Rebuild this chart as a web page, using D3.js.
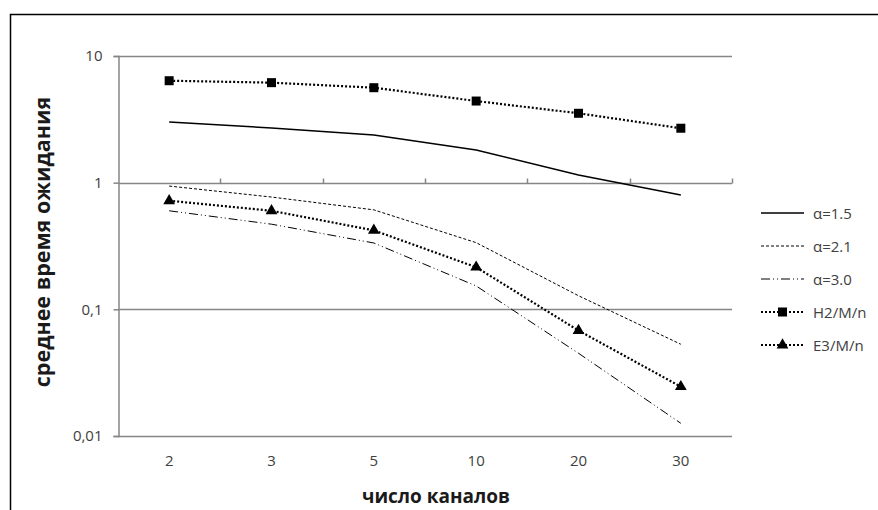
<!DOCTYPE html>
<html>
<head>
<meta charset="utf-8">
<script src="https://cdn.jsdelivr.net/npm/d3@7"></script>
<style>
  body { margin: 0; background: #fff; }
  svg { display: block; font-family: "Open Sans", sans-serif; }
</style>
</head>
<body>
<svg id="chart" width="878" height="510"></svg>
<script>
const channels = ["2", "3", "5", "10", "20", "30"];
const alpha15 = [3.01, 2.7, 2.38, 1.81, 1.15, 0.8];
const alpha21 = [0.94, 0.77, 0.61, 0.336, 0.128, 0.053];
const alpha30 = [0.6, 0.47, 0.334, 0.153, 0.045, 0.0126];
const h2mn = [6.38, 6.16, 5.62, 4.41, 3.53, 2.69];
const e3mn = [0.72, 0.6, 0.42, 0.215, 0.068, 0.0245];
const yTicks = [0.01, 0.1, 1, 10];
const yTickLabels = ["0,01", "0,1", "1", "10"];

const series = [
  { name: "α=1.5", values: alpha15, dash: null, width: 1.5, marker: null },
  { name: "α=2.1", values: alpha21, dash: "3,2", width: 1, marker: null },
  { name: "α=3.0", values: alpha30, dash: "9,3,1,3,1,3", width: 1, marker: null },
  { name: "H2/M/n", values: h2mn, dash: "2,2", width: 2.2, marker: "square" },
  { name: "E3/M/n", values: e3mn, dash: "2,2", width: 2.2, marker: "triangle" },
];

const svg = d3.select("#chart");
const plotLeft = 118, plotRight = 732, plotTop = 56, plotBottom = 436;
const grey = "#868686";
const labelFont = "\"Open Sans\", sans-serif";

// outer frame
svg.append("rect")
  .attr("x", 10.5).attr("y", 14.5)
  .attr("width", 900).attr("height", 520)
  .attr("fill", "none").attr("stroke", "#000").attr("stroke-width", 1.5);

const x = d3.scaleBand().domain(channels).range([plotLeft, plotRight]).paddingInner(0).paddingOuter(0);
const y = d3.scaleLog().domain([0.01, 10]).range([plotBottom, plotTop]);
const cx = (d) => x(d) + x.bandwidth() / 2;

// horizontal gridlines
svg.append("g").selectAll("line").data(yTicks).enter().append("line")
  .attr("x1", plotLeft).attr("x2", plotRight)
  .attr("y1", (d) => Math.round(y(d)) + 0.5).attr("y2", (d) => Math.round(y(d)) + 0.5)
  .attr("stroke", grey).attr("stroke-width", 1.5);

// y axis
const yAxis = d3.axisLeft(y).tickValues(yTicks)
  .tickFormat((d, i) => yTickLabels[i]).tickSize(5).tickPadding(11);
const gY = svg.append("g").attr("transform", "translate(" + (plotLeft + 0.5) + ",0)").call(yAxis);
gY.select(".domain").attr("stroke", grey).attr("stroke-width", 1.5);
gY.selectAll(".tick line").attr("stroke", grey).attr("stroke-width", 1.5);
gY.selectAll(".tick text").attr("font-size", 15).attr("fill", "#404040")
  .attr("font-family", labelFont);

// x axis crosses at 1 (ticks only), labels at bottom
const xLine = Math.round(y(1)) + 0.5;
const bounds = channels.map((c) => x(c) + x.bandwidth());
svg.append("g").selectAll("line").data(bounds).enter().append("line")
  .attr("x1", (d) => Math.round(d) + 0.5).attr("x2", (d) => Math.round(d) + 0.5)
  .attr("y1", xLine - 5).attr("y2", xLine)
  .attr("stroke", grey).attr("stroke-width", 1.5);

svg.append("g").selectAll("text").data(channels).enter().append("text")
  .attr("x", (d) => cx(d)).attr("y", 466)
  .attr("text-anchor", "middle").attr("font-size", 15).attr("fill", "#404040")
  .text((d) => d);

// axis titles
svg.append("text")
  .attr("x", 436).attr("y", 503)
  .attr("text-anchor", "middle").attr("font-size", 19).attr("font-weight", "bold")
  .attr("fill", "#1a1a1a").text("число каналов");

svg.append("text")
  .attr("transform", "translate(50,242) rotate(-90)")
  .attr("text-anchor", "middle").attr("font-size", 21.5).attr("font-weight", "bold")
  .attr("fill", "#1a1a1a").text("среднее время ожидания");

// series lines
const line = d3.line().x((d, i) => cx(channels[i])).y((d) => y(d));

series.forEach((s) => {
  svg.append("path")
    .datum(s.values)
    .attr("d", line)
    .attr("fill", "none")
    .attr("stroke", "#000")
    .attr("stroke-width", s.width)
    .attr("stroke-dasharray", s.dash);

  if (s.marker === "square") {
    svg.append("g").selectAll("rect").data(s.values).enter().append("rect")
      .attr("x", (d, i) => cx(channels[i]) - 4.5)
      .attr("y", (d) => y(d) - 4.5)
      .attr("width", 9).attr("height", 9).attr("fill", "#000");
  } else if (s.marker === "triangle") {
    svg.append("g").selectAll("path").data(s.values).enter().append("path")
      .attr("d", d3.symbol().type(d3.symbolTriangle).size(60))
      .attr("transform", (d, i) => "translate(" + cx(channels[i]) + "," + y(d) + ")")
      .attr("fill", "#000");
  }
});

// legend
const legend = svg.append("g");
series.forEach((s, i) => {
  const ly = 213 + i * 33;
  legend.append("line")
    .attr("x1", 761).attr("x2", 804).attr("y1", ly).attr("y2", ly)
    .attr("stroke", "#000").attr("stroke-width", s.width)
    .attr("stroke-dasharray", s.dash);
  if (s.marker === "square") {
    legend.append("rect").attr("x", 778).attr("y", ly - 4.5)
      .attr("width", 9).attr("height", 9).attr("fill", "#000");
  } else if (s.marker === "triangle") {
    legend.append("path")
      .attr("d", d3.symbol().type(d3.symbolTriangle).size(60))
      .attr("transform", "translate(782.5," + ly + ")").attr("fill", "#000");
  }
  legend.append("text")
    .attr("x", 813).attr("y", ly + 5.5)
    .attr("font-size", 15).attr("fill", "#404040")
    .text(s.name);
});
</script>
</body>
</html>
